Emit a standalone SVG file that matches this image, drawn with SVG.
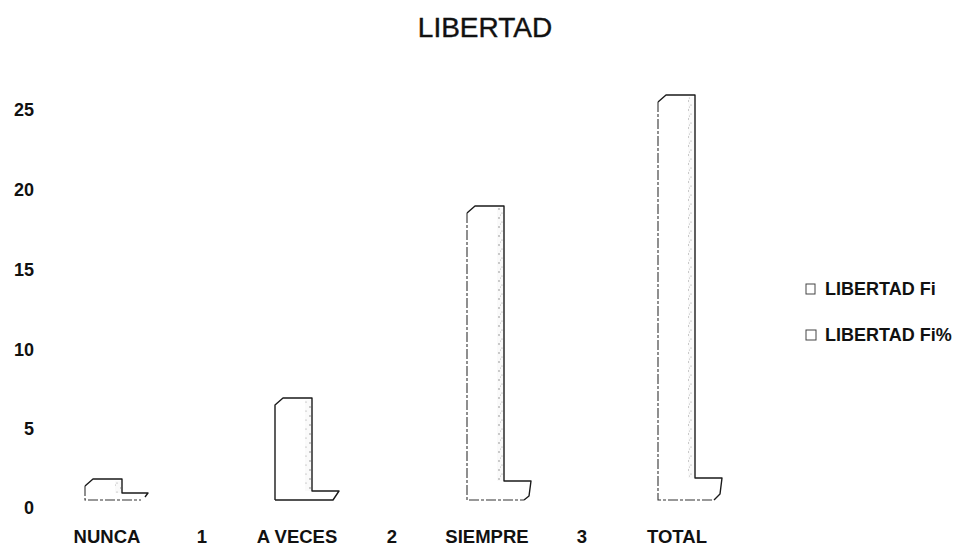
<svg xmlns="http://www.w3.org/2000/svg" width="964" height="548" viewBox="0 0 964 548">
<style>
.t{font-family:"Liberation Sans",Arial,sans-serif;fill:#111}
.ax{font-size:18px;font-weight:bold;text-anchor:end}
.cat{font-size:18.5px;font-weight:bold;text-anchor:middle}
.lg{font-size:18px;font-weight:bold}
.ttl{font-size:28px;text-anchor:middle;stroke:#111;stroke-width:0.4}
.edge{fill:none;stroke:#1a1a1a;stroke-width:1.4;stroke-linejoin:round}
.soft{fill:none;stroke:#333;stroke-width:1.1;stroke-dasharray:10 2 3 2}
.face{fill:#fff}
.side{fill:url(#spk)}
</style>
<defs>
<pattern id="spk" width="7" height="9" patternUnits="userSpaceOnUse">
<rect width="7" height="9" fill="#fafafa"/>
<circle cx="2" cy="2" r="0.7" fill="#777"/>
<circle cx="5" cy="6" r="0.6" fill="#999"/>
<circle cx="3.5" cy="8" r="0.5" fill="#aaa"/>
</pattern>
</defs>
<rect width="964" height="548" fill="#fff"/>
<text class="t ttl" x="485" y="37">LIBERTAD</text>
<g id="y-axis">
<text class="t ax" x="34" y="116">25</text>
<text class="t ax" x="34" y="196">20</text>
<text class="t ax" x="34" y="276">15</text>
<text class="t ax" x="34" y="356">10</text>
<text class="t ax" x="34" y="435">5</text>
<text class="t ax" x="34" y="514">0</text>
</g>
<g id="bar-nunca">
<path class="face" d="M85,500 L85,486 L93,479 L122,479 L122,493 L148,493 L141,500 Z"/>
<rect class="side" x="115" y="481" width="6" height="12"/>
<path class="edge" d="M85,486 L93,479 L122,479 L122,493 L148,493 L145,497"/>
<path class="soft" d="M85,486 L85,500 L141,500"/>
</g>
<g id="bar-aveces">
<path class="face" d="M275,500 L275,405 L283,398 L312,398 L312,491 L339,491 L333,500 Z"/>
<rect class="side" x="305" y="400" width="6" height="91"/>
<path class="edge" d="M275,500 L275,405 L283,398 L312,398 L312,491 L339,491 L333,500 L275,500"/>
</g>
<g id="bar-siempre">
<path class="face" d="M467,500 L467,213 L475,206 L504,206 L504,481 L531,481 L529,496 L524,500 Z"/>
<rect class="side" x="497" y="208" width="6" height="273"/>
<path class="edge" d="M467,213 L475,206 L504,206 L504,481 L531,481 L529,496 L524,500"/>
<path class="soft" d="M467,213 L467,500 L524,500"/>
</g>
<g id="bar-total">
<path class="face" d="M658,500 L658,102 L666,95 L695,95 L695,478 L722,478 L720,494 L714,500 Z"/>
<rect class="side" x="688" y="97" width="6" height="381"/>
<path class="edge" d="M658,102 L666,95 L695,95 L695,478 L722,478 L720,494 L714,500"/>
<path class="soft" d="M658,102 L658,500 L714,500"/>
</g>
<g id="x-axis">
<text class="t cat" x="107" y="543">NUNCA</text>
<text class="t cat" x="202" y="543">1</text>
<text class="t cat" x="297" y="543">A VECES</text>
<text class="t cat" x="392" y="543">2</text>
<text class="t cat" x="487" y="543">SIEMPRE</text>
<text class="t cat" x="582" y="543">3</text>
<text class="t cat" x="677" y="543">TOTAL</text>
</g>
<g id="legend">
<rect x="806" y="284" width="9" height="10" fill="#fff" stroke="#444" stroke-width="1"/>
<text class="t lg" x="825" y="295">LIBERTAD Fi</text>
<rect x="806" y="330" width="10" height="10" fill="#fff" stroke="#444" stroke-width="1"/>
<text class="t lg" x="825" y="341">LIBERTAD Fi%</text>
</g>
</svg>
